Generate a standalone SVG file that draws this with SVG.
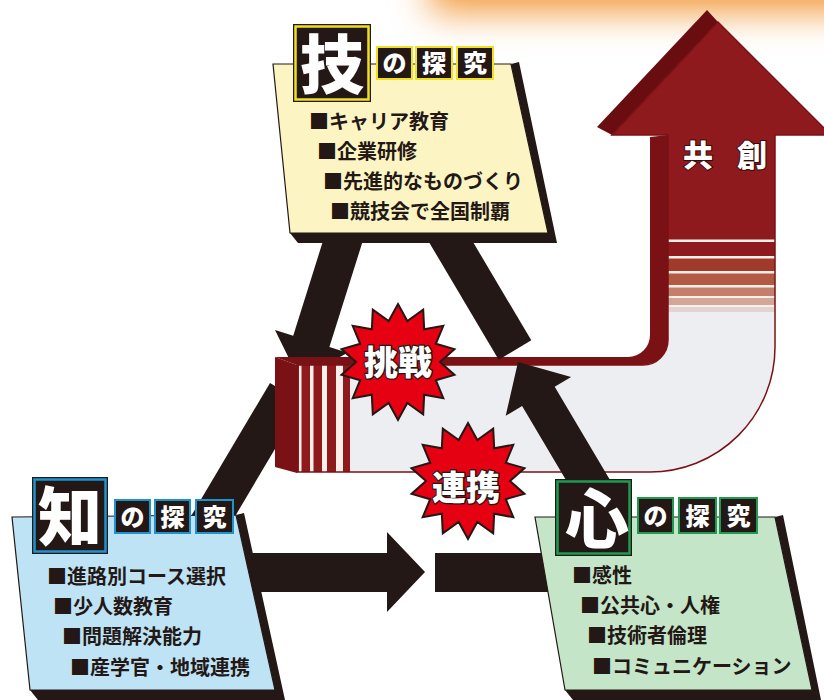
<svg xmlns="http://www.w3.org/2000/svg" width="824" height="700" viewBox="0 0 824 700">
<defs>
<style>
text{font-family:'Noto Sans CJK JP','Noto Sans CJK SC',sans-serif}
.t{font-size:20px;font-weight:700;fill:#231815}
.big{font-size:64px;font-weight:900;fill:#fff;text-anchor:middle}
.sm{font-size:24px;font-weight:900;fill:#fff;text-anchor:middle}
.blk{fill:#231815}
.face{stroke:#231815;stroke-width:1.2}
.burst{font-size:34px;font-weight:900;fill:#fff;stroke:#231815;stroke-width:2.5;paint-order:stroke;stroke-linejoin:round;text-anchor:middle}
.star{fill:#e50012;stroke:#231815;stroke-width:2;stroke-linejoin:miter}
.wl{fill:#fbefe9}
</style>
<filter id="glow" x="-30%" y="-150%" width="160%" height="400%"><feGaussianBlur stdDeviation="18"/></filter>
<clipPath id="clipL"><path clip-rule="evenodd" d="M0 0H824V700H0Z M275 357H700V473H275Z"/></clipPath>
<polygon id="star" points="0,-58 9.3,-40.9 25.2,-52.3 26.2,-32.8 45.3,-36.2 37.8,-18.2 56.5,-12.9 42,0 56.5,12.9 37.8,18.2 45.3,36.2 26.2,32.8 25.2,52.3 9.3,40.9 0,58 -9.3,40.9 -25.2,52.3 -26.2,32.8 -45.3,36.2 -37.8,18.2 -56.5,12.9 -42,0 -56.5,-12.9 -37.8,-18.2 -45.3,-36.2 -26.2,-32.8 -25.2,-52.3 -9.3,-40.9"/>
</defs>
<rect width="824" height="700" fill="#fff"/>
<rect x="430" y="-60" width="460" height="72" fill="#f29a3a" filter="url(#glow)"/>

<g id="pipe">
<path fill="#7a1215" d="M275 357 L628 357 A22 22 0 0 0 650 335 L650 137 L668 135 L668 340 A25 25 0 0 1 643 365 L297 365 Z"/>
<polygon fill="#6a0d10" points="597,127 707,10 718,22 612,135"/>
<path fill="#eceef1" d="M297 365 L643 365 A25 25 0 0 0 668 340 L668 135 L612 135 L718 22 L831 135 L775 135 L775 347 A125 125 0 0 1 650 472 L297 472 Z"/>
<polygon fill="#8e1a1e" points="668,241 668,135 612,135 718,22 831,135 775,135 775,241"/>
<rect x="668" y="241" width="107" height="16" fill="#8e1a1e"/>
<rect x="668" y="257" width="107" height="15" fill="#a23a2b"/>
<rect x="668" y="272" width="107" height="14" fill="#b35a44"/>
<rect x="668" y="286" width="107" height="11" fill="#c47f6b"/>
<rect x="668" y="297" width="107" height="9" fill="#d3a699"/>
<rect x="668" y="306" width="107" height="6" fill="#e2d3cf"/>
<rect class="wl" x="668" y="239.5" width="107" height="2.5"/>
<rect class="wl" x="668" y="256" width="107" height="2.5"/>
<rect class="wl" x="668" y="271" width="107" height="2.5"/>
<rect class="wl" x="668" y="285" width="107" height="2.5"/>
<rect class="wl" x="668" y="296" width="107" height="2"/>
<rect class="wl" x="668" y="305" width="107" height="2"/>
<rect x="297" y="365" width="53" height="107" fill="#8e1a1e"/>
<rect class="wl" x="299" y="365" width="2.5" height="107"/>
<rect class="wl" x="310" y="365" width="3.5" height="107"/>
<rect class="wl" x="322" y="365" width="5" height="107"/>
<rect class="wl" x="336" y="365" width="7" height="107"/>
<polygon fill="#7a1215" points="275,357 297,365 297,473 275,467"/>
<path fill="none" stroke="#7a1215" stroke-width="1.5" d="M297 365 L643 365 A25 25 0 0 0 668 340 L668 135 L612 135 L718 22 L831 135 L775 135 L775 347 A125 125 0 0 1 650 472 L297 472 Z"/>
<text x="683" y="166" font-size="30" font-weight="900" fill="#fff" stroke="#3a0a0a" stroke-width="2" paint-order="stroke" letter-spacing="24">共創</text>
</g>

<g id="connectors" class="blk">
<g clip-path="url(#clipL)">
<polygon points="299.3,379.6 275,330 293.2,335.7 341.2,183.1 377.4,194.5 329.4,347.1 347.6,352.8"/>
<polygon points="270,383 302.6,402.4 221,540 188.4,520.6"/>
</g>
<polygon points="245,553 387,553 387,532 425,572 387,612 387,592 245,592"/>
<rect x="435" y="553" width="125" height="39"/>
<polygon points="518,362 571.1,377 554.7,386.7 636.3,524.3 603.7,543.7 522.1,406.1 505.7,415.8"/>
<polygon points="531.3,340.3 498.7,359.7 422.2,230.7 454.8,211.3"/>
</g>

<g id="burst-challenge">
<use href="#star" x="398" y="362" class="star"/>
<text class="burst" x="398" y="375">挑戦</text>
</g>
<g id="burst-collab">
<use href="#star" x="468" y="481" class="star"/>
<text class="burst" x="466" y="500">連携</text>
</g>

<g id="node-gi">
<polygon class="blk" points="511,64 519,62 557,243 298,243 290,233 548,233"/>
<polygon class="face" fill="#fcf5c3" points="273,64 511,64 548,233 290,233"/>
<rect x="293" y="24" width="78" height="78" class="blk"/>
<rect x="295.5" y="26.5" width="73" height="73" fill="none" stroke="#f0e020" stroke-width="2.5"/>
<text class="big" x="332" y="88">技</text>
<rect x="377" y="47" width="35" height="32" class="blk" stroke="#f0e020" stroke-width="2"/>
<rect x="416" y="47" width="36" height="32" class="blk" stroke="#f0e020" stroke-width="2"/>
<rect x="457" y="47" width="36" height="32" class="blk" stroke="#f0e020" stroke-width="2"/>
<text class="sm" x="394.5" y="72">の</text>
<text class="sm" x="434" y="72">探</text>
<text class="sm" x="475" y="72">究</text>
<text class="t" x="309" y="129">■キャリア教育</text>
<text class="t" x="317" y="159">■企業研修</text>
<text class="t" x="323" y="189">■先進的なものづくり</text>
<text class="t" x="330" y="219">■競技会で全国制覇</text>
</g>

<g id="node-chi">
<polygon class="blk" points="236,515 244,513 285,700 38,700 30,690 275,690"/>
<polygon class="face" fill="#bee3f5" points="12,517 236,515 275,690 30,690"/>
<rect x="32" y="477" width="76" height="77" class="blk"/>
<rect x="34.5" y="479.5" width="71" height="72" fill="none" stroke="#1e93cf" stroke-width="2.5"/>
<text class="big" x="70" y="540">知</text>
<rect x="115" y="500" width="35" height="33" class="blk" stroke="#1e93cf" stroke-width="2"/>
<rect x="155" y="500" width="35" height="33" class="blk" stroke="#1e93cf" stroke-width="2"/>
<rect x="196" y="500" width="37" height="33" class="blk" stroke="#1e93cf" stroke-width="2"/>
<text class="sm" x="132.5" y="525.5">の</text>
<text class="sm" x="172.5" y="525.5">探</text>
<text class="sm" x="214.5" y="525.5">究</text>
<text class="t" x="47" y="584">■進路別コース選択</text>
<text class="t" x="53" y="614">■少人数教育</text>
<text class="t" x="62" y="644">■問題解決能力</text>
<text class="t" x="70" y="675">■産学官・地域連携</text>
</g>

<g id="node-shin">
<polygon class="blk" points="775,517 783,515 821,700 573,700 565,690 812,690"/>
<polygon class="face" fill="#c4e5c7" points="535,517 775,517 812,690 565,690"/>
<rect x="555" y="479" width="77" height="77" class="blk"/>
<rect x="557.5" y="481.5" width="72" height="72" fill="none" stroke="#1f9a50" stroke-width="2.5"/>
<text class="big" x="597" y="542">心</text>
<rect x="638" y="498" width="35" height="35" class="blk" stroke="#1f9a50" stroke-width="2"/>
<rect x="679" y="498" width="37" height="35" class="blk" stroke="#1f9a50" stroke-width="2"/>
<rect x="720" y="498" width="37" height="35" class="blk" stroke="#1f9a50" stroke-width="2"/>
<text class="sm" x="655.5" y="524.5">の</text>
<text class="sm" x="697.5" y="524.5">探</text>
<text class="sm" x="738.5" y="524.5">究</text>
<text class="t" x="572" y="583">■感性</text>
<text class="t" x="580" y="613">■公共心・人権</text>
<text class="t" x="587" y="643">■技術者倫理</text>
<text class="t" x="592" y="674">■コミュニケーション</text>
</g>
</svg>
